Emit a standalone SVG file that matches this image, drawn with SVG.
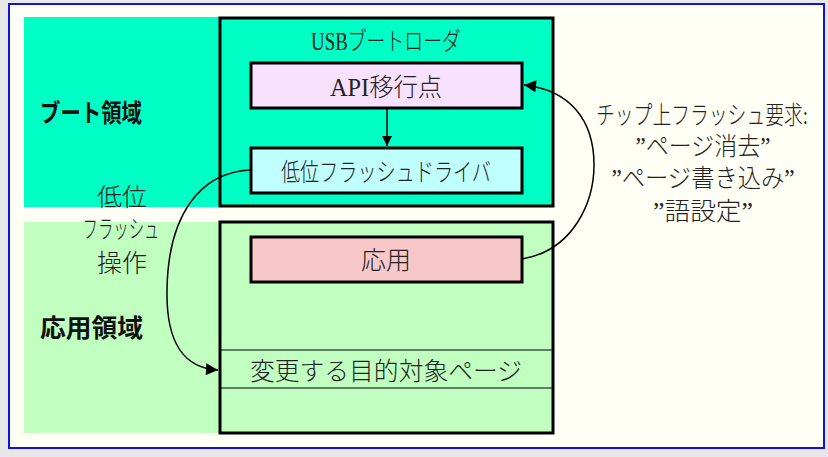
<svg xmlns="http://www.w3.org/2000/svg" width="828" height="457" viewBox="0 0 828 457">
<defs>
<style>
.t{font-family:"Liberation Serif","Noto Sans CJK JP",serif;fill:#222;font-size:25px;font-weight:300;text-anchor:middle}
.b{font-family:"Noto Sans CJK JP",sans-serif;font-weight:bold;fill:#111;font-size:25px}
.box{stroke:#000;stroke-width:3}
.ln{fill:none;stroke:#000;stroke-width:1.5}
</style>
<marker id="ah" viewBox="0 0 10 10" refX="10" refY="5" markerWidth="10" markerHeight="10" markerUnits="userSpaceOnUse" orient="auto">
<path d="M0,0 L10,5 L0,10 z" fill="#000"/>
</marker>
<marker id="ahb" viewBox="0 0 10 10" refX="10" refY="5" markerWidth="14" markerHeight="12" markerUnits="userSpaceOnUse" orient="auto">
<path d="M0,0 L10,5 L0,10 z" fill="#000"/>
</marker>
</defs>
<rect x="0" y="0" width="828" height="457" fill="#e8e8e8"/>
<rect x="9" y="4" width="815" height="444" fill="#fffff6" stroke="#1010e0" stroke-width="2"/>
<g id="boot-region">
<rect x="24" y="17" width="196" height="190" fill="#00ffc4"/>
<text class="b" x="40" y="122" textLength="102" lengthAdjust="spacingAndGlyphs">ブート領域</text>
</g>
<g id="app-region">
<rect x="24" y="222" width="196" height="211" fill="#c0ffc0"/>
<text class="b" x="40" y="337" textLength="103" lengthAdjust="spacingAndGlyphs">応用領域</text>
</g>
<g id="usb-bootloader">
<rect class="box" x="220" y="18" width="333" height="188" fill="#00ffc4"/>
<text class="t" x="386" y="50" textLength="150" lengthAdjust="spacingAndGlyphs">USBブートローダ</text>
</g>
<g id="api">
<rect class="box" x="251" y="63" width="271" height="45" fill="#f8e0ff"/>
<text class="t" x="386" y="96" textLength="112" lengthAdjust="spacingAndGlyphs">API移行点</text>
</g>
<g id="driver">
<rect class="box" x="251" y="148" width="271" height="45" fill="#c0ffff"/>
<text class="t" x="386" y="181" textLength="210" lengthAdjust="spacingAndGlyphs">低位フラッシュドライバ</text>
</g>
<g id="app-area">
<rect class="box" x="220" y="222" width="333" height="211" fill="#c0ffc0"/>
<line x1="220" y1="350" x2="553" y2="350" stroke="#000" stroke-width="1.2"/>
<line x1="220" y1="388" x2="553" y2="388" stroke="#000" stroke-width="1.2"/>
</g>
<g id="target-page">
<text class="t" x="386" y="380" textLength="272" lengthAdjust="spacingAndGlyphs">変更する目的対象ページ</text>
</g>
<g id="app">
<rect class="box" x="251" y="237" width="271" height="45" fill="#f8c8c8"/>
<text class="t" x="386" y="269" textLength="50" lengthAdjust="spacingAndGlyphs">応用</text>
</g>
<g id="flash-op-label">
<text class="t" x="122" y="206" font-size="25" textLength="50" lengthAdjust="spacingAndGlyphs">低位</text>
<text class="t" x="121" y="238" font-size="18" textLength="77" lengthAdjust="spacingAndGlyphs">フラッシュ</text>
<text class="t" x="122" y="272" font-size="25" textLength="50" lengthAdjust="spacingAndGlyphs">操作</text>
</g>
<g id="request-label">
<text class="t" x="702" y="124" textLength="212" lengthAdjust="spacingAndGlyphs">チップ上フラッシュ要求:</text>
<text class="t" x="703" y="155" textLength="135" lengthAdjust="spacingAndGlyphs">”ページ消去”</text>
<text class="t" x="703" y="187" textLength="183" lengthAdjust="spacingAndGlyphs">”ページ書き込み”</text>
<text class="t" x="703" y="220" textLength="100" lengthAdjust="spacingAndGlyphs">”語設定”</text>
</g>
<g id="connectors">
<line class="ln" x1="387" y1="108" x2="387" y2="146" marker-end="url(#ah)"/>
<path class="ln" d="M251,170 C200,172 168,215 167,290 C166,345 185,368 218,370" marker-end="url(#ahb)"/>
<path class="ln" d="M522,259 C575,250 594,200 594,165 C594,120 570,90 524,85" marker-end="url(#ahb)"/>
</g>
</svg>
